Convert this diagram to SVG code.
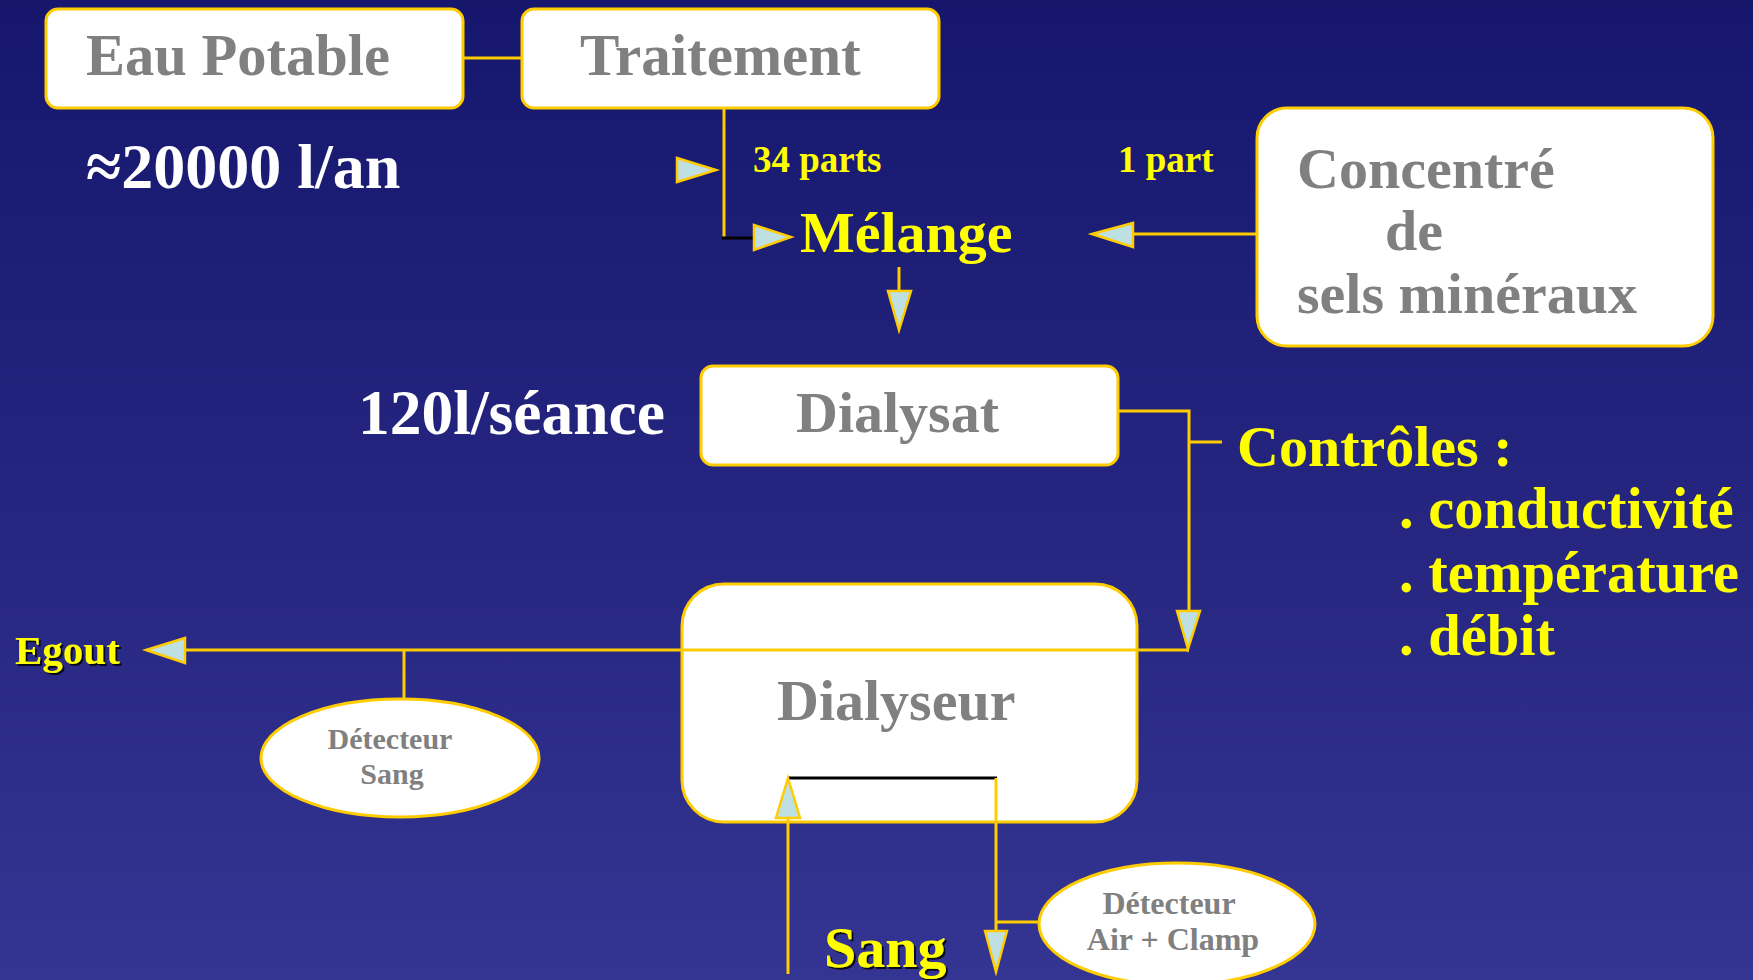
<svg xmlns="http://www.w3.org/2000/svg" width="1753" height="980" viewBox="0 0 1753 980">
<defs>
<linearGradient id="bg" x1="0" y1="0" x2="0" y2="1">
<stop offset="0" stop-color="#15166c"/>
<stop offset="1" stop-color="#343492"/>
</linearGradient>
<filter id="sh" x="-10%" y="-10%" width="130%" height="130%">
<feOffset dx="2" dy="2" in="SourceAlpha" result="o"/>
<feFlood flood-color="#000000" flood-opacity="0.8"/>
<feComposite in2="o" operator="in"/>
<feMerge><feMergeNode/><feMergeNode in="SourceGraphic"/></feMerge>
</filter>
</defs>
<style>
.box{fill:#ffffff;stroke:#ffcc00;stroke-width:3}
.ln{fill:none;stroke:#ffcc00;stroke-width:3}
.blk{fill:none;stroke:#000000;stroke-width:3}
.ah{fill:#bfe0e3;stroke:#ffcc00;stroke-width:2.5;stroke-linejoin:miter}
.t{font-family:"Liberation Serif","Times New Roman",serif;font-weight:bold}
.g{fill:#808080}
.y{fill:#ffff00}
.w{fill:#ffffff}
</style>
<rect x="0" y="0" width="1753" height="980" fill="url(#bg)"/>

<g id="connectors">
<line class="ln" x1="463" y1="58" x2="522" y2="58"/>
<polyline class="ln" points="724,108 724,238"/>
<line class="blk" x1="722" y1="238" x2="754" y2="238"/>
<polygon class="ah" points="677,158 716,170 677,182"/>
<polygon class="ah" points="754,225 791,237 754,250"/>
<line class="ln" x1="1133" y1="234" x2="1256" y2="234"/>
<polygon class="ah" points="1092,234 1133,223 1133,247"/>
<line class="ln" x1="899" y1="267" x2="899" y2="291"/>
<polygon class="ah" points="888,291 911,291 899,330"/>
<polyline class="ln" points="1119,411 1189,411 1189,612"/>
<line class="ln" x1="1189" y1="442" x2="1222" y2="442"/>
<polygon class="ah" points="1177,611 1200,611 1188,649"/>
<line class="ln" x1="404" y1="650" x2="404" y2="698"/>
<line class="ln" x1="996" y1="922" x2="1045" y2="922"/>
</g>

<g id="eau-potable">
<rect class="box" x="46" y="9" width="417" height="99" rx="12"/>
<text class="t g" x="86" y="75" font-size="58.5">Eau Potable</text>
</g>
<g id="traitement">
<rect class="box" x="522" y="9" width="417" height="99" rx="12"/>
<text class="t g" x="580" y="75" font-size="59">Traitement</text>
</g>
<g id="volume-an">
<text class="t w" x="86" y="188" font-size="64">≈20000 l/an</text>
</g>
<g id="label-34">
<text class="t y" x="753" y="172" font-size="37">34 parts</text>
</g>
<g id="label-1">
<text class="t y" x="1118" y="172" font-size="37">1 part</text>
</g>
<g id="melange">
<text class="t y" x="800" y="252" font-size="58">Mélange</text>
</g>
<g id="concentre">
<rect class="box" x="1257" y="108" width="456" height="238" rx="30"/>
<text class="t g" x="1297" y="188" font-size="58">Concentré</text>
<text class="t g" x="1385" y="250" font-size="58">de</text>
<text class="t g" x="1297" y="313" font-size="58">sels minéraux</text>
</g>
<g id="volume-seance">
<text class="t w" x="358" y="434" font-size="63.5">120l/séance</text>
</g>
<g id="dialysat">
<rect class="box" x="701" y="366" width="417" height="99" rx="12"/>
<text class="t g" x="796" y="432" font-size="58">Dialysat</text>
</g>
<g id="controles">
<text class="t y" x="1237" y="466" font-size="58">Contrôles :</text>
<text class="t y" x="1399" y="528" font-size="58.5">. conductivité</text>
<text class="t y" x="1399" y="592" font-size="58.5">. température</text>
<text class="t y" x="1399" y="655" font-size="58.5">. débit</text>
</g>
<g id="dialyseur">
<rect class="box" x="682" y="584" width="455" height="238" rx="42"/>
<text class="t g" x="777" y="720" font-size="58">Dialyseur</text>
</g>
<g id="dialysate-flow">
<polyline class="ln" points="185,650 1189,650"/>
<polygon class="ah" points="146,650 185,638 185,663"/>
</g>
<g id="blood-flow">
<line class="blk" x1="788" y1="778" x2="997" y2="778"/>
<line class="ln" x1="788" y1="818" x2="788" y2="974"/>
<polygon class="ah" points="788,778 800,818 776,818"/>
<line class="ln" x1="996" y1="778" x2="996" y2="931"/>
<polygon class="ah" points="985,931 1007,931 996,972"/>
</g>
<g id="egout">
<text class="t y" x="15" y="664" font-size="41" filter="url(#sh)">Egout</text>
</g>
<g id="detecteur-sang">
<ellipse class="box" cx="400" cy="758" rx="139" ry="59"/>
<text class="t g" x="390" y="749" font-size="30" text-anchor="middle">Détecteur</text>
<text class="t g" x="392" y="784" font-size="30" text-anchor="middle">Sang</text>
</g>
<g id="detecteur-air">
<ellipse class="box" cx="1177" cy="924" rx="138" ry="61"/>
<text class="t g" x="1169" y="914" font-size="32" text-anchor="middle">Détecteur</text>
<text class="t g" x="1173" y="950" font-size="32" text-anchor="middle">Air + Clamp</text>
</g>
<g id="sang">
<text class="t y" x="824" y="967" font-size="58" filter="url(#sh)">Sang</text>
</g>
</svg>
